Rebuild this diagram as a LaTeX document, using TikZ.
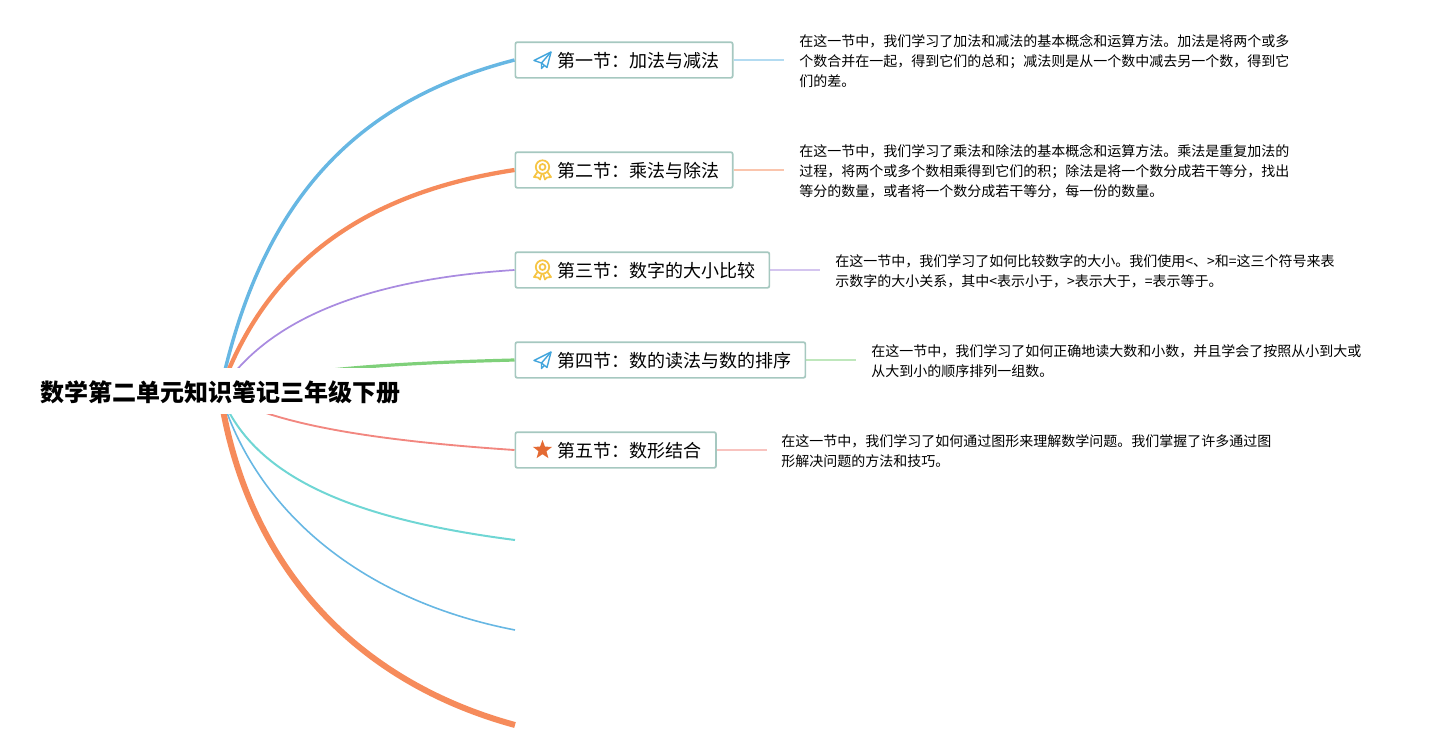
\documentclass[tikz,border=0pt]{standalone}
\usepackage{fontspec}
\setmainfont{Noto Sans CJK SC}
\usetikzlibrary{shapes.geometric}
\definecolor{cblue}{HTML}{67B7E3}
\definecolor{corange}{HTML}{F68B5B}
\definecolor{cpurple}{HTML}{A98BE0}
\definecolor{cgreen}{HTML}{7FD07A}
\definecolor{cred}{HTML}{F28780}
\definecolor{cteal}{HTML}{6FD6D4}
\definecolor{boxedge}{HTML}{A6C8C0}
\definecolor{iconblue}{HTML}{42A5DC}
\definecolor{icongold}{HTML}{F6C544}
\definecolor{iconstar}{HTML}{E46A33}
\tikzset{
 x=0.75pt,y=-0.75pt,
 rootnode/.style={fill=white,inner sep=0pt,minimum width=282pt,minimum height=34pt,font=\fontsize{18}{20}\selectfont\bfseries,text=black},
 branch/.style={draw=boxedge,line width=1.3pt,rounded corners=1.5pt,fill=white,minimum height=26.8pt,inner sep=0pt,anchor=west,font=\fontsize{13.5}{16}\selectfont,text=black},
 detail/.style={anchor=west,align=left,inner sep=0pt,font=\fontsize{10.5}{15}\selectfont,text=black},
 stub/.style={line width=1.5pt,opacity=.5},
 conn/.style={line cap=butt},
 planeicon/.style={draw=iconblue,line width=1.05pt,line join=round},
 medalicon/.style={draw=icongold,line width=1.3pt,line join=round},
}
\newcommand{\boxlabel}[2]{\makebox[#1][l]{\hspace{31.3pt}\raisebox{-5.9pt}[6pt][6pt]{#2}}}
\newcommand{\planeat}[2]{\begin{scope}[shift={(#1,#2)}]
 \draw[planeicon] (-8.5,0.5) -- (8.5,-8) -- (4.5,7.5) -- (-1,3) -- cycle;
 \draw[planeicon] (8.5,-8) -- (-1,3) -- (-1,8.5) -- (1.8,5.4);
\end{scope}}
\newcommand{\medalat}[2]{\begin{scope}[shift={(#1,#2)}]
 \draw[medalicon] (0,-3) circle[radius=6.7];
 \draw[medalicon] (0,-3) circle[radius=3];
 \draw[medalicon] (-5,2) -- (-8.5,7) -- (-4.5,7.5) -- (-2.5,9.5) -- (-0.8,4);
 \draw[medalicon] (5,2) -- (8.5,7) -- (4.5,7.5) -- (2.5,9.5) -- (0.8,4);
\end{scope}}
\begin{document}
\begin{tikzpicture}
\useasboundingbox (0,0) rectangle (1431,750);
\coordinate (hub) at (220,392);
\node[branch] (b1) at (514.5,60) {\boxlabel{163pt}{第一节：加法与减法}};
\node[branch] (b2) at (514.5,170) {\boxlabel{163pt}{第二节：乘法与除法}};
\node[branch] (b3) at (514.5,270) {\boxlabel{190.5pt}{第三节：数字的大小比较}};
\node[branch] (b4) at (514.5,360) {\boxlabel{217.5pt}{第四节：数的读法与数的排序}};
\node[branch] (b5) at (514.5,450) {\boxlabel{150.5pt}{第五节：数形结合}};
\coordinate (b6) at (515,540);
\coordinate (b7) at (515,630);
\coordinate (b8) at (515,725);
% main connectors
\draw[conn,cblue,line width=2.6pt] (hub) .. controls (262,195) and (360,100) .. (b1.west);
\draw[conn,corange,line width=3.2pt] (hub) .. controls (262,275) and (350,195) .. (b2.west);
\draw[conn,cpurple,line width=1.3pt] (hub) .. controls (265,322) and (360,280) .. (b3.west);
\draw[conn,cgreen,line width=2.4pt] (hub) .. controls (280,369) and (400,363) .. (b4.west);
\draw[conn,cred,line width=1.4pt] (hub) .. controls (270,425) and (380,441) .. (b5.west);
\draw[conn,cteal,line width=1.5pt] (hub) .. controls (252,480) and (360,520) .. (b6);
\draw[conn,cblue,line width=1.2pt] (hub) .. controls (255,510) and (360,600) .. (b7);
\draw[conn,corange,line width=4.5pt] (hub) .. controls (245,560) and (350,680) .. (b8);
\node[rootnode] (root) at (220.5,391) {\raisebox{-7.6pt}[9pt][9pt]{数学第二单元知识笔记三年级下册}};
% icons
\planeat{542.5}{60}
\medalat{542.5}{170}
\medalat{542.5}{270}
\planeat{542.5}{360}
\node[star,star points=5,star point ratio=2.4,fill=iconstar,inner sep=0pt,minimum size=15pt] (st) at (542.5,450) {};
% details
\node[detail] (d1) at (799,61) {在这一节中，我们学习了加法和减法的基本概念和运算方法。加法是将两个或多\\个数合并在一起，得到它们的总和；减法则是从一个数中减去另一个数，得到它\\们的差。};
\node[detail] (d2) at (799,171) {在这一节中，我们学习了乘法和除法的基本概念和运算方法。乘法是重复加法的\\过程，将两个或多个数相乘得到它们的积；除法是将一个数分成若干等分，找出\\等分的数量，或者将一个数分成若干等分，每一份的数量。};
\node[detail] (d3) at (835,271) {在这一节中，我们学习了如何比较数字的大小。我们使用<、>和=这三个符号来表\\示数字的大小关系，其中<表示小于，>表示大于，=表示等于。};
\node[detail] (d4) at (871,361) {在这一节中，我们学习了如何正确地读大数和小数，并且学会了按照从小到大或\\从大到小的顺序排列一组数。};
\node[detail] (d5) at (781,451) {在这一节中，我们学习了如何通过图形来理解数学问题。我们掌握了许多通过图\\形解决问题的方法和技巧。};
% stubs
\draw[stub,cblue] (b1.east) -- ++(50,0);
\draw[stub,corange] (b2.east) -- ++(50,0);
\draw[stub,cpurple] (b3.east) -- ++(50,0);
\draw[stub,cgreen] (b4.east) -- ++(50,0);
\draw[stub,cred] (b5.east) -- ++(50,0);
\end{tikzpicture}
\end{document}
